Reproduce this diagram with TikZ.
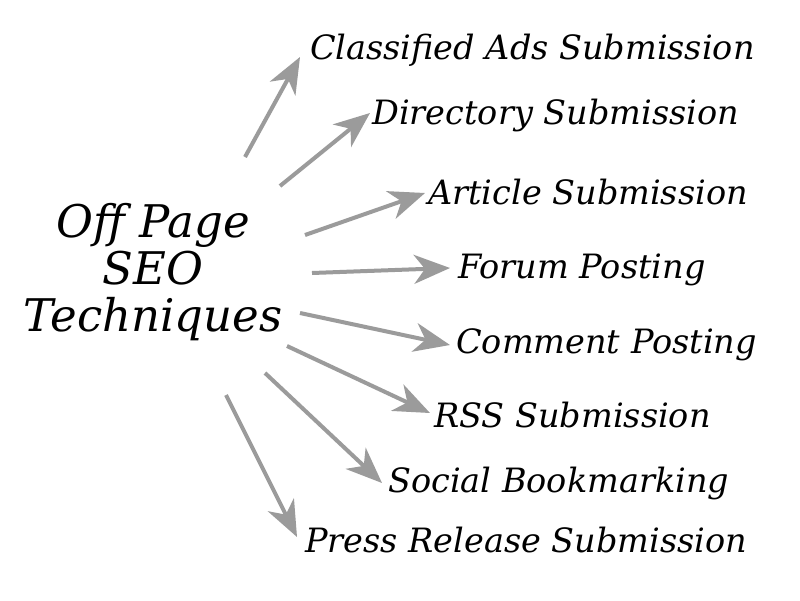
\documentclass[tikz,border=0pt]{standalone}
\usepackage{fontspec}
\setmainfont{DejaVu Serif}
\usetikzlibrary{arrows.meta}
\definecolor{arrgray}{RGB}{155,155,155}
\tikzset{
  lab/.style={anchor=west,inner sep=0pt,font=\fontsize{33.5}{36}\selectfont\itshape},
  mainlab/.style={align=center,inner sep=0pt,font=\fontsize{45}{47}\selectfont\itshape},
  arr/.style={draw=arrgray,line width=4pt,-{Stealth[length=36pt,width=29pt,inset=11pt]}}
}
\begin{document}
\begin{tikzpicture}[x=1pt,y=-1pt]
\useasboundingbox[fill=white] (0,0) rectangle (800,600);
\node[mainlab] (m) at (153,272) {Off Page\\SEO\\Techniques};
\node[lab] (l1) at (310,50) {Classified Ads Submission};
\node[lab] (l2) at (372,115) {Directory Submission};
\node[lab] (l3) at (428,192) {Article Submission};
\node[lab] (l4) at (458,270) {Forum Posting};
\node[lab] (l5) at (456,345) {Comment Posting};
\node[lab] (l6) at (434,415) {RSS Submission};
\node[lab] (l7) at (388,483) {Social Bookmarking};
\node[lab] (l8) at (305,540) {Press Release Submission};
\coordinate (s1) at (245,157);
\coordinate (s2) at (280,186);
\coordinate (s3) at (305,235);
\coordinate (s4) at (312,273);
\coordinate (s5) at (300,313);
\coordinate (s6) at (287,346);
\coordinate (s7) at (265,373);
\coordinate (s8) at (226,395);
\draw[arr] (s1) -- ([shift={(-10,7)}]l1.west);
\draw[arr] (s2) -- ([shift={(-2,-2)}]l2.west);
\draw[arr] (s3) -- ([shift={(-3,1)}]l3.west);
\draw[arr] (s4) -- ([shift={(-8,-2)}]l4.west);
\draw[arr] (s5) -- ([shift={(-6,0)}]l5.west);
\draw[arr] (s6) -- ([shift={(-4,-2)}]l6.west);
\draw[arr] (s7) -- ([shift={(-6,0)}]l7.west);
\draw[arr] (s8) -- ([shift={(-8,-3)}]l8.west);
\end{tikzpicture}
\end{document}
